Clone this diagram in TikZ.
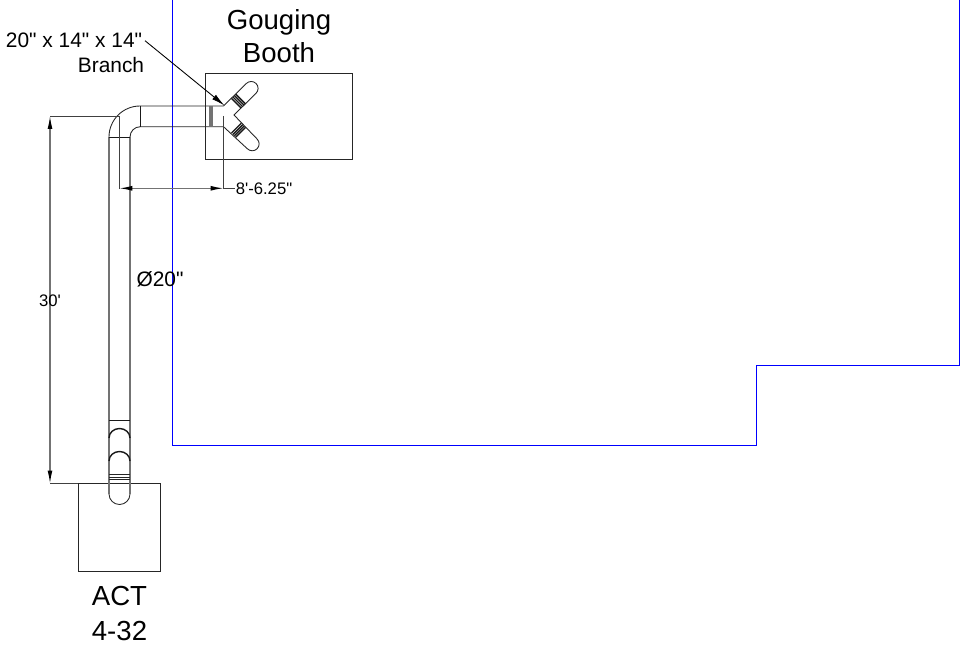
\documentclass[tikz,border=0pt]{standalone}
\usepackage{fontspec}
\setmainfont[Ligatures=TeXOff]{Liberation Sans}
\usetikzlibrary{arrows.meta}
\tikzset{
  pipeline/.style={line width=.5pt,black!85},
  pipegray/.style={line width=.8pt,black!55},
  bandline/.style={line width=.8pt,black!90},
  dimline/.style={line width=.7pt,black!55,{Latex[length=7.4pt,width=2.8pt,black]}-{Latex[length=7.4pt,width=2.8pt,black]}},
  extline/.style={line width=.5pt,black!75},
  wallline/.style={line width=.45pt,blue},
  boxline/.style={line width=.5pt,black!85},
  smalltext/.style={inner sep=0pt,anchor=base,font=\fontsize{9.5}{11}\selectfont},
  midtext/.style={inner sep=0pt,anchor=base,font=\fontsize{11.9}{14}\selectfont},
  bigtext/.style={inner sep=0pt,anchor=base,font=\fontsize{15.7}{18}\selectfont}
}
\begin{document}
\begin{tikzpicture}[x=.02cm,y=-.02cm]
\useasboundingbox (0,0) rectangle (963,645);
\draw[wallline] (172,0) -- (172,445) -- (756,445) -- (756,365) -- (959,365) -- (959,0);
\draw[boxline] (205,73) rectangle (352,159);
\draw[boxline] (78,483.5) rectangle (160,571);
% main run
\draw[pipegray] (109,494) -- (109,137);
\draw[pipegray] (130,494) -- (130,137);
\draw[pipeline] (109,137) arc (180:270:31) -- (223.5,106);
\draw[pipeline] (130,137) arc (180:270:10.3) -- (223.5,126.7);
\draw[pipeline] (109,494) arc (180:0:10.5);
\draw[bandline] (109,137.3) -- (130,137.3);
\draw[bandline] (140.7,106) -- (140.7,126.7);
\draw[pipegray] (210,106) -- (210,126.7);
\draw[pipegray] (212,106) -- (212,126.7);
\draw[bandline] (109,420.7) -- (130,420.7);
\draw[pipeline] (109,474.5) -- (130,474.5);
\draw[pipeline] (109,477) -- (130,477);
\draw[pipeline] (109,479.5) -- (130,479.5);
\draw[bandline] (109,438) arc (180:360:10.5 and 9.5);
\draw[bandline] (109,461) arc (180:360:10.5 and 9.5);
% wye
\draw[pipeline] (223.5,106) -- (246.3,83.5) arc (225:405:6.9) -- (234,115) -- (257.1,139) arc (315:495:6.9) -- (223.5,126.7);
\foreach \t in {7.2,8.6,10,11.4} {
  \draw[bandline] (229.2+\t-4.9,110.4-\t-4.9) -- (229.2+\t+4.9,110.4-\t+4.9);
  \draw[bandline] (229.2+\t+4.9,120.9+\t-4.9) -- (229.2+\t-4.9,120.9+\t+4.9);
}
% dimensions
\draw[extline] (50,116) -- (119.3,116);
\draw[extline] (50,483.5) -- (78,483.5);
\draw[extline] (119.3,116) -- (119.3,189);
\draw[extline] (223.5,116) -- (223.5,189);
\draw[dimline] (50,116) -- (50,483.5);
\draw[dimline] (119.3,188.3) -- (223.5,188.3);
\draw[extline] (223.5,188.3) -- (235,188.3);
\node[smalltext] (lengthlabel) at (264,194.5) {8'-6.25"};
\node[smalltext] (heightlabel) at (50,306) {30'};
\node[midtext] (sizelabel) at (160,286.7) {Ø20"};
\node[midtext] (branchsize) at (74,48) {20" x 14" x 14"};
\node[midtext] (branchname) at (111,73) {Branch};
\node[bigtext] (boothname) at (279,30) {Gouging};
\node[bigtext] (boothnametwo) at (279,63) {Booth};
\node[bigtext] (actname) at (119.5,605.7) {ACT};
\node[bigtext] (actnum) at (119.5,640) {4-32};
\coordinate (branchstart) at (145,40.7);
\coordinate (branchtip) at (224.5,105.5);
\draw[extline,black,-{Latex[length=7.6pt,width=3.3pt]}] (branchstart) -- (branchtip);
\end{tikzpicture}
\end{document}
